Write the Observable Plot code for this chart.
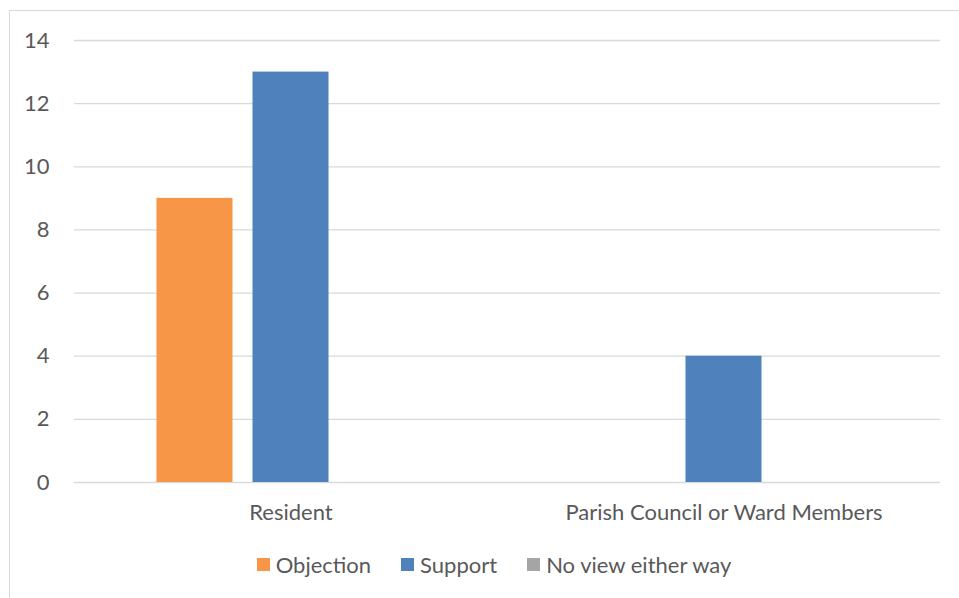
<!DOCTYPE html>
<html>
<head>
<meta charset="utf-8">
<script src="https://cdn.jsdelivr.net/npm/d3@7"></script>
<script src="https://cdn.jsdelivr.net/npm/@observablehq/plot@0.6"></script>
<style>
  html, body { margin: 0; padding: 0; background: #fff; overflow: hidden; }
  #frame {
    position: absolute; left: 9px; top: 10px; width: 952px; height: 640px;
    box-sizing: border-box; border: 1px solid #d9d9d9; background: #fff;
  }
  #legend {
    font-family: Lato, sans-serif; font-size: 22px; color: #595959;
    text-align: center; line-height: 26px; margin-top: 18px; padding-left: 10px; width: 948px;
  }
  .item { display: inline-flex; align-items: center; margin: 0 15px; }
  .sw { display: inline-block; width: 13px; height: 13px; margin-right: 6px; }
</style>
</head>
<body>
<div id="frame"><div id="chart"></div><div id="legend"></div></div>
<script>
const groups = ["Resident", "Parish Council or Ward Members"];
const series = ["Objection", "Support", "No view either way"];
const objection = [9, 0];
const support = [13, 4];
const noView = [0, 0];
const colors = ["#F79646", "#4F81BD", "#A5A5A5"];
const yTicks = [0, 2, 4, 6, 8, 10, 12, 14];

const valuesBySeries = [objection, support, noView];
const data = [];
groups.forEach((g, gi) => {
  series.forEach((s, si) => {
    data.push({group: g, series: s, value: valuesBySeries[si][gi]});
  });
});

const chart = Plot.plot({
  width: 948,
  height: 521,
  marginLeft: 64,
  marginRight: 18,
  marginTop: 29,
  marginBottom: 50,
  style: {fontFamily: "Lato, sans-serif", fontSize: "22px", color: "#595959", background: "#fff"},
  fx: {domain: groups, padding: 0, label: null, axis: "bottom", tickSize: 0, tickPadding: 22},
  x: {domain: series, paddingInner: 0.2083, paddingOuter: 0.859, axis: null, round: false},
  y: {domain: [0, 14], ticks: yTicks, tickSize: 0, tickPadding: 25, label: null, tickFormat: d => String(d)},
  color: {domain: series, range: colors},
  marks: [
    Plot.ruleY(yTicks, {stroke: "#d9d9d9", strokeWidth: 1.3}),
    Plot.barY(data.filter(d => d.value > 0), {fx: "group", x: "series", y: "value", fill: "series"})
  ]
});
document.getElementById("chart").appendChild(chart);

const legend = document.getElementById("legend");
series.forEach((s, i) => {
  const item = document.createElement("span");
  item.className = "item";
  const sw = document.createElement("span");
  sw.className = "sw";
  sw.style.background = colors[i];
  item.appendChild(sw);
  item.appendChild(document.createTextNode(s));
  legend.appendChild(item);
});
</script>
</body>
</html>
